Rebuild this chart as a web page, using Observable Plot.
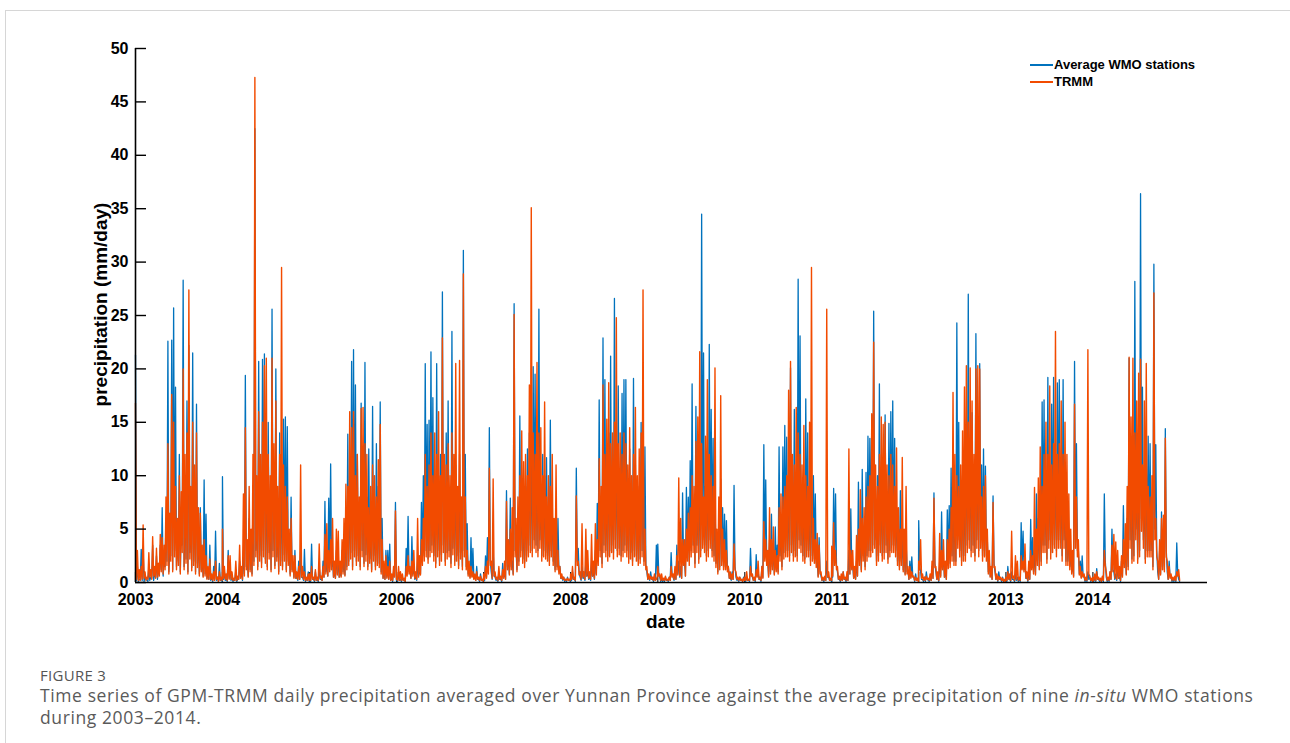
<!DOCTYPE html>
<html>
<head>
<meta charset="utf-8">
<script src="https://cdn.jsdelivr.net/npm/d3@7"></script>
<script src="https://cdn.jsdelivr.net/npm/@observablehq/plot@0.6"></script>
<style>
  html, body { margin: 0; padding: 0; background: #fff; }
  body { width: 1290px; height: 743px; position: relative; overflow: hidden; font-family: "Liberation Sans", Arial, sans-serif; }
  #frame { position: absolute; left: 5px; top: 10px; right: -2px; bottom: -2px; border-left: 1px solid #d6d6d6; border-top: 1px solid #d6d6d6; }
  #chart { position: absolute; left: 0; top: 0; }
  #legend { position: absolute; left: 1030px; top: 56px; font-weight: bold; font-size: 13px; color: #000; }
  #legend .row { height: 17px; line-height: 17px; white-space: nowrap; display: flex; align-items: center; }
  #legend .sw { display: inline-block; width: 23px; height: 2px; margin-right: 1px; }
  #fig { position: absolute; left: 40px; top: 666px; height: 18px; line-height: 18px; font-family: "Open Sans", "Noto Sans", sans-serif; font-size: 15px; color: #555; letter-spacing: 0.3px; }
  #cap { position: absolute; left: 40px; top: 685px; width: 1245px; font-family: "Open Sans", "Noto Sans", sans-serif; font-size: 17.5px; line-height: 21.5px; color: #5a5a5a; letter-spacing: 0.6px; white-space: nowrap; }
</style>
</head>
<body>
<div id="frame"></div>
<div id="chart"></div>
<div id="legend">
  <div class="row"><span class="sw" style="background:#0072BD"></span>Average WMO stations</div>
  <div class="row"><span class="sw" style="background:#F24B00"></span>TRMM</div>
</div>
<div id="fig">FIGURE 3</div>
<div id="cap">Time series of GPM-TRMM daily precipitation averaged over Yunnan Province against the average precipitation of nine <i>in-situ</i> WMO stations<br>during 2003–2014.</div>
<script>
// ---- data (mm/day) ----
// "peak" arrays: one value every 8 days from 1 January (day 0, 8, 16, ...)
// "low" arrays: the values in between (day 4, 12, 20, ...)
const years = [2003, 2004, 2005, 2006, 2007, 2008, 2009, 2010, 2011, 2012, 2013, 2014];
const yTicks = [0, 5, 10, 15, 20, 25, 30, 35, 40, 45, 50];

const wmo2003 = [21.3,1.5,0.3,3.1,3,0.5,0.2,1.5,0.5,3.5,0.8,2.5,1,3.5,7,2,6,22.6,3,22.7,25.7,18.3,4,12,5,28.3,8,17,22.2,6,21.5,9,16.7,4,7,2,9.6,6.4,1,3.5,0.5,1.5,4.8,0.5,1.8,0.3];
const trmm2003 = [16.8,3,1.2,1.5,5.4,1,0.5,2.8,1.2,4.3,1.5,3.2,1.8,4.5,4.2,3.5,8,13,6.5,17.6,15,9,6,10,8.5,20,12,14,27.4,9,15,11,14,7,6.5,3.5,4,2.5,1.5,2.2,0.8,1,2,0.5,1,0.5];
const wmo2004 = [9.9,1,0.3,3,1.5,0.5,0.2,1.2,0.3,2,0.8,3,19.4,2,6,3,8,42.5,6,20.7,8,20.9,21.4,10,15,7,25.6,9,20,6,14,10,15.3,15.5,14.6,3,8,1.5,3,0.5,2,3,0.5,3.1,0.3,1];
const trmm2004 = [5,1.5,0.8,2.5,2.5,1,0.4,2,0.6,3.5,1.5,8.3,14.5,4,9,5,12,47.3,10,16,12,15,20.3,21,12,10,21,13,17,9,12,29.5,11,9,8,5,6,2.5,2.5,1,1.5,11,1.5,1,0.5,0.8];
const wmo2005 = [0.5,3.6,0.3,1,0.2,1.5,0.3,2,7.6,2,7.9,11.1,2,1,3,2,1,3,2,5,13.9,8,20.7,21.8,18.5,12,6,16.8,9,20.6,8,12.5,5,16.5,6,13,9,16.9,6,1,3,3,3.6,0.5,1,7.5];
const trmm2005 = [0.8,1.5,0.5,1.2,0.5,3.6,0.6,1.5,4.5,5.5,3,4,6,2,5,4.8,2,4,6,9.2,9,16,14.5,16,10,12,8,16.3,16.4,13,12,7,9,11,10,8,11.5,14.8,4,2,2.5,1.5,2,0.8,1.5,6.7];
const wmo2006 = [0.3,1,0.3,0.5,0.2,3.2,6.2,1,4.3,1.5,0.5,2,1,7.5,10,20.5,14.8,15.2,21.6,17.3,8,20.5,9,12,27.2,8,14,17,6,23.5,9,11,7,12,5,31.1,12,5.5,1.5,4.2,3.2,0.5,1.5,0.3,0.8,0.2];
const trmm2006 = [0.5,1.5,1,0.8,0.4,1.5,2.5,1.5,2,3,1,6,2.5,4,6,12,9,11,14,10,14,12,16,10,22.9,12,11,13,10,14,12,20.5,9,20.8,8,28.9,8,3,2,1.5,1,0.8,1,0.5,0.6,0.3];
const wmo2007 = [0.5,2.5,4.2,14.5,1,3,0.5,0.3,1,0.3,1.8,0.8,8.6,2,7.9,2,26.1,3,6,15.6,9,6,9,12.5,14,13,20.2,19.5,12,25.6,9,12,10,11.7,6,15.2,7,4,6,6,1.5,0.5,0.5,0.2,0.5,0.2];
const trmm2007 = [0.8,1.5,2,10.7,2,9.7,1,0.5,1.5,0.6,1.2,2,7.6,4,5,7,25.1,6,8,10,14.2,11.3,12,10,18.5,35.1,14,12,20.6,14,14.5,10,16.9,8,10,9,12,6,11,3,1.5,0.8,0.5,0.3,0.4,0.3];
const wmo2008 = [0.5,1,0.3,10.7,3.2,0.5,1.5,0.5,2,1,0.5,2,1,3,7.4,17.1,6,22.9,19,9,14,21.2,10,26.6,12,18.4,9,17.7,19,19,8,12.5,7,19.1,11,8,9,15,9,12.7,1,0.5,1,0.3,0.6,3.5];
const trmm2008 = [0.8,1.5,0.5,8.1,2,1,5.5,1,5,3,1,4.5,2,5.5,4,11.6,9,18.5,12,15.3,18.7,13,14,15,24.8,13,14,12,14,13,11,14.5,10,12,16.4,10,12.5,14,27.4,5,1.5,0.8,0.6,0.5,0.8,0.3];
const wmo2009 = [3.6,0.5,0.3,0.2,0.5,0.2,0.5,2.8,0.5,1,3.5,2,1.5,8.4,2,8.9,8,11.4,18.6,6,16.5,8,10,34.5,21.5,9,12,22.3,16.2,13.5,8,4,6,9.7,7,6.4,5.8,1.5,0.5,1,9.1,0.5,0.3,0.5,0.2,0.5];
const trmm2009 = [1.5,0.8,0.8,0.4,0.6,0.3,0.5,1.5,0.8,1.5,2.5,9.8,6,4,4,5,6.5,7,10,9,13.2,15.5,21.6,13,8,13.7,19,12,10,9,20.1,5,8,17.5,5,4,3,1.5,1,0.8,3.6,1,0.5,0.5,0.3,0.4];
const wmo2010 = [0.3,0.5,0.2,3.2,0.5,0.3,2.6,1,0.3,1.5,12.9,9.6,2,4,6.4,3,5.2,3.5,12.7,5,12.7,14.7,13.6,9,20.1,8,16.2,9,28.4,23.1,9,8,17.2,14,7,10,10,8.3,2,4.2,0.6,0.3,0.5,2,0.5,0.3];
const trmm2010 = [0.5,1,0.3,1.5,0.8,0.5,1.2,2,0.5,1.5,5.7,4,3,7,4,5.2,3,2.5,7,8.3,8,9,10,18,20.7,12,11,16.4,14,12,11,14.7,10,9,15,29.5,6,4,4.6,3.5,1,0.5,0.6,25.6,1,0.4];
const wmo2011 = [2,8.8,8.3,1,0.3,0.5,1,0.3,0.5,3,6.9,1.5,0.8,2,9.4,4,10.6,5,10.3,13.7,13.5,15.7,25.4,7,10,18.6,9,10,15.7,8,14.9,16,17,13.5,7,5,8.6,4,3,4,1,2,2.4,0.5,0.8,0.3];
const trmm2011 = [3.4,5.6,3,1.5,0.6,0.8,1,0.5,1,12.5,3,3,1.5,4.4,5,8.7,6,7,8,9,10,15.8,22.5,11,9,12,15.5,14.8,15,11,10,12,11,9,12.6,7,5,11.7,5,9,1.5,1.5,1,0.6,0.5,0.4];
const wmo2012 = [5.8,1,0.3,0.5,1,0.2,0.5,1.5,8.4,1,0.5,2,6.6,2,1,6.8,7.2,10.7,9,8,24.3,15,7,10,9,14.4,27,12,15.9,9,23.3,12,20.5,11,12.5,10.9,4,2,1,8.1,1,0.5,1,0.3,0.5,0.2];
const trmm2012 = [2,4,0.8,0.5,0.6,0.4,0.8,2,7.9,1.5,1,4.6,3,4,2,4,5,7,17.8,12,10,9,11,14.2,18.3,20.3,15,20.1,17,12,20,20.3,20,8,9,10,5,3,1.5,7.5,1.5,0.8,0.6,0.5,0.4,0.3];
const wmo2013 = [0.3,1.5,0.3,1,0.3,0.8,0.5,0.3,5.6,4.8,1.5,0.5,1,5.9,4.2,3,8.3,6,8,16.9,17.1,9,19.2,11,16.7,19.2,12,18.7,19,9,19,8,7,5,3,2,20.7,13,3,2,2.5,0.5,0.3,1,0.5,0.3];
const trmm2013 = [0.5,1,0.8,4.8,0.6,2.5,2,0.5,2.5,2,3.6,1,2,3,2.5,8.9,5,9.8,12.7,9,12,15,12,18.4,11,13,23.5,12,13,17,12,15,12,8.3,5,3,16.7,8,4,1.5,1,0.8,0.5,21.8,0.6,0.4];
const wmo2014 = [0.3,0.5,1.3,0.3,0.2,0.5,8.3,0.5,0.3,1,5,1,0.8,1.5,0.5,2,7.2,3,6,21,9,10,28.2,9,12,36.4,18.3,9,12,13.7,13,6,29.8,12.9,1,3,6.6,5,14.4,1,2,0.5,0.3,0.5,3.7,0.3];
const trmm2014 = [0.5,0.8,1,0.5,0.4,0.6,3,1,0.5,1,3.5,4.5,3.8,3,1.5,2.5,4,5.5,9,21.1,15.5,21,14,17,19.6,20.9,11,17,20.5,9,8,10,27.1,6,2,4,6,6.3,13.5,2,1.5,0.8,0.5,0.6,1,1.2];

const wmoLow2003 = [0.2,0.1,0.3,0.2,0.1,0.3,0.1,0.2,0.4,0.2,0.5,0.3,0.8,1.2,0.6,1.5,2,1,2.5,1.2,3,1.5,2,1,3.5,1.5,2.2,1,2.8,1.4,2,1,1.8,0.8,1.2,0.6,0.8,0.4,0.3,0.2,0.1,0.3,0.2,0.1,0.2,0.1];
const trmmLow2003 = [0.3,0.2,0.2,0.3,0.4,0.2,0.3,0.5,0.3,0.6,0.4,0.5,0.6,1,0.8,1.2,1.6,0.8,2,1,2.4,1.2,1.6,0.8,2.8,1.2,1.8,0.8,2.2,1.1,1.6,0.8,1.4,0.6,1,0.5,0.6,0.3,0.3,0.3,0.2,0.2,0.3,0.1,0.2,0.2];
const wmoLow2004 = [0.3,0.2,0.1,0.4,0.2,0.1,0.2,0.1,0.3,0.5,0.2,0.8,1.5,0.6,1.2,0.8,2,3,1.5,2.5,1.8,3,2.2,1.5,2.8,1.2,3,1.6,2.4,1,2,1.5,2.6,1.2,2,0.8,1.2,0.5,0.4,0.2,0.3,0.5,0.2,0.1,0.2,0.1];
const trmmLow2004 = [0.4,0.3,0.2,0.3,0.3,0.2,0.2,0.2,0.3,0.4,0.3,0.6,1.2,0.5,1,0.6,1.6,2.4,1.2,2,1.4,2.4,1.8,1.2,2.2,1,2.4,1.3,2,0.8,1.6,1.2,2,1,1.6,0.6,1,0.4,0.4,0.3,0.3,0.5,0.3,0.2,0.2,0.2];
const wmoLow2005 = [0.1,0.3,0.1,0.2,0.1,0.3,0.2,0.5,1,0.6,1.2,1.5,0.5,0.4,0.8,0.5,0.6,1,0.7,1.5,2,2.8,1.5,3,2,2.5,1.5,3,1.8,2.6,1.5,2.2,1.2,2.5,1.5,2,1.8,1,0.4,0.3,0.5,0.3,0.2,0.1,0.6,0.2];
const trmmLow2005 = [0.2,0.3,0.2,0.2,0.2,0.4,0.2,0.5,0.8,0.6,1,1.2,0.5,0.4,0.7,0.5,0.5,0.8,0.6,1.2,1.6,2.2,1.2,2.4,1.6,2,1.2,2.4,1.5,2,1.2,1.8,1,2,1.2,1.6,1.4,0.8,0.4,0.3,0.4,0.3,0.2,0.2,0.5,0.3];
const wmoLow2006 = [0.1,0.2,0.1,0.2,0.1,0.8,1,0.4,0.8,0.3,0.2,0.6,0.8,2,2.5,3,2.2,3,3.5,2.5,1.8,3,2,2.6,3.5,2,2.8,3,1.8,3.2,2,2.5,1.6,2.8,1.5,3,1.5,0.8,0.5,0.6,0.4,0.2,0.3,0.1,0.2,0.1];
const trmmLow2006 = [0.2,0.2,0.2,0.2,0.1,0.6,0.8,0.4,0.6,0.4,0.3,0.5,0.7,1.6,2,2.4,1.8,2.4,2.8,2,1.4,2.4,1.6,2,2.8,1.6,2.2,2.4,1.4,2.6,1.6,2,1.3,2.2,1.2,2.4,1.2,0.6,0.4,0.5,0.3,0.2,0.3,0.2,0.2,0.1];
const wmoLow2007 = [0.2,0.5,1,2,0.3,0.6,0.2,0.1,0.3,0.1,0.5,0.3,1.5,0.8,1.5,0.8,3,1.2,2,3,2.2,1.8,2.5,3,3.5,3,4,3.5,3,4,2.5,3,2.8,2.5,2,3,2,1.2,1.5,1,0.4,0.2,0.1,0.1,0.2,0.1];
const trmmLow2007 = [0.3,0.4,0.8,1.6,0.4,0.6,0.3,0.2,0.3,0.2,0.4,0.3,1.2,0.7,1.2,0.7,2.4,1,1.6,2.4,1.8,1.4,2,2.4,2.8,2.4,3.2,2.8,2.4,3.2,2,2.4,2.2,2,1.6,2.4,1.6,1,1.2,0.8,0.4,0.3,0.2,0.2,0.2,0.2];
const wmoLow2008 = [0.2,0.3,0.1,2,0.8,0.2,0.4,0.2,0.6,0.3,0.2,0.6,0.3,0.8,2,3,1.8,3.5,3,2.5,3,3.5,2.8,4,3,3.2,2.5,3,3.5,3,2.2,2.8,2,3,2.5,2,2.2,3,2,1.5,0.3,0.2,0.3,0.1,0.2,0.8];
const trmmLow2008 = [0.3,0.3,0.2,1.6,0.7,0.3,0.5,0.3,0.6,0.4,0.3,0.6,0.4,0.7,1.6,2.4,1.4,2.8,2.4,2,2.4,2.8,2.2,3.2,2.4,2.6,2,2.4,2.8,2.4,1.8,2.2,1.6,2.4,2,1.6,1.8,2.4,1.6,1.2,0.3,0.3,0.3,0.2,0.2,0.6];
const wmoLow2009 = [0.8,0.1,0.1,0.1,0.2,0.1,0.2,0.6,0.2,0.3,0.8,0.5,0.4,2,0.6,2.5,2,3,3.5,1.8,3.5,2.2,3,4,3.5,2.5,3,4,3,2.5,1.8,1,1.5,2,1.5,1.5,1.2,0.4,0.2,0.3,1.5,0.2,0.1,0.2,0.1,0.2];
const trmmLow2009 = [0.6,0.2,0.2,0.2,0.2,0.2,0.2,0.5,0.3,0.3,0.7,0.6,0.4,1.6,0.6,2,1.6,2.4,2.8,1.4,2.8,1.8,2.4,3.2,2.8,2,2.4,3.2,2.4,2,1.4,0.8,1.2,1.6,1.2,1.2,1,0.4,0.3,0.3,1.2,0.3,0.2,0.2,0.1,0.2];
const wmoLow2010 = [0.1,0.2,0.1,0.8,0.2,0.1,0.6,0.3,0.1,0.5,2.5,2,0.6,1,1.5,0.8,1.2,1,2.5,1.5,2.8,3,3,2.5,3.5,2.5,3,2.5,4,3.5,2.5,2.2,3,3,2,2.5,2.2,1.8,0.6,1,0.2,0.1,0.2,0.5,0.2,0.1];
const trmmLow2010 = [0.2,0.2,0.2,0.6,0.2,0.2,0.5,0.3,0.2,0.4,2,1.6,0.5,0.8,1.2,0.7,1,0.8,2,1.2,2.2,2.4,2.4,2,2.8,2,2.4,2,3.2,2.8,2,1.8,2.4,2.4,1.6,2,1.8,1.4,0.5,0.8,0.2,0.2,0.2,0.5,0.2,0.2];
const wmoLow2011 = [0.5,2,1.5,0.3,0.1,0.2,0.3,0.1,0.2,0.8,1.5,0.4,0.3,0.6,2,1.2,2.5,1.5,2.5,3,3,3.5,4,2,2.5,3.5,2.5,2.8,3.5,2.2,3,3.5,3.5,3,2,1.5,2,1.2,0.8,1,0.3,0.5,0.6,0.1,0.2,0.1];
const trmmLow2011 = [0.6,1.6,1.2,0.3,0.2,0.2,0.3,0.2,0.2,0.8,1.2,0.4,0.3,0.6,1.6,1,2,1.2,2,2.4,2.4,2.8,3.2,1.6,2,2.8,2,2.2,2.8,1.8,2.4,2.8,2.8,2.4,1.6,1.2,1.6,1,0.7,0.8,0.3,0.4,0.5,0.2,0.2,0.1];
const wmoLow2012 = [1.5,0.3,0.1,0.1,0.3,0.1,0.2,0.4,1.8,0.3,0.1,0.6,1.5,0.5,0.3,1.6,1.8,2.5,2,2,4,3,2,2.5,2.5,3.5,4,3,3.5,2.5,4,3,4,2.5,3,2.5,1,0.6,0.3,1.8,0.3,0.1,0.3,0.1,0.1,0.1];
const trmmLow2012 = [1.2,0.4,0.2,0.2,0.3,0.2,0.2,0.4,1.4,0.3,0.2,0.5,1.2,0.5,0.3,1.3,1.4,2,1.6,1.6,3.2,2.4,1.6,2,2,2.8,3.2,2.4,2.8,2,3.2,2.4,3.2,2,2.4,2,0.8,0.5,0.3,1.4,0.3,0.2,0.3,0.2,0.1,0.1];
const wmoLow2013 = [0.1,0.4,0.1,0.3,0.1,0.2,0.1,0.1,1.5,1.2,0.4,0.1,0.3,1.5,1,0.8,2,1.5,2,3.5,3.5,2.2,4,2.8,3.5,4,3,4,4,2.5,4,2,2,1.5,1,0.6,4,3,0.8,0.5,0.6,0.1,0.1,0.3,0.1,0.1];
const trmmLow2013 = [0.2,0.3,0.2,0.4,0.2,0.3,0.2,0.2,1.2,1,0.4,0.2,0.3,1.2,0.8,0.7,1.6,1.2,1.6,2.8,2.8,1.8,3.2,2.2,2.8,3.2,2.4,3.2,3.2,2,3.2,1.6,1.6,1.2,0.8,0.5,3.2,2.4,0.7,0.4,0.5,0.2,0.2,0.8,0.2,0.1];
const wmoLow2014 = [0.1,0.1,0.3,0.1,0.1,0.1,2,0.1,0.1,0.3,1.2,0.3,0.2,0.4,0.1,0.6,1.8,0.8,1.5,4,2.2,2.5,5,2.2,3,6,4,2.2,3,3,3,1.5,5,3,0.3,0.8,1.5,1.2,3,0.3,0.5,0.1,0.1,0.1,0.8,0.1];
const trmmLow2014 = [0.2,0.2,0.3,0.2,0.1,0.2,1.6,0.2,0.2,0.3,1,0.4,0.3,0.4,0.2,0.5,1.4,0.7,1.2,3.2,1.8,2,4,1.8,2.4,4.8,3.2,1.8,2.4,2.4,2.4,1.2,4,2.4,0.3,0.7,1.2,1,2.4,0.3,0.4,0.2,0.2,0.2,0.6,0.2];

const wmoPeaks  = [wmo2003, wmo2004, wmo2005, wmo2006, wmo2007, wmo2008, wmo2009, wmo2010, wmo2011, wmo2012, wmo2013, wmo2014];
const trmmPeaks = [trmm2003, trmm2004, trmm2005, trmm2006, trmm2007, trmm2008, trmm2009, trmm2010, trmm2011, trmm2012, trmm2013, trmm2014];
const wmoLows   = [wmoLow2003, wmoLow2004, wmoLow2005, wmoLow2006, wmoLow2007, wmoLow2008, wmoLow2009, wmoLow2010, wmoLow2011, wmoLow2012, wmoLow2013, wmoLow2014];
const trmmLows  = [trmmLow2003, trmmLow2004, trmmLow2005, trmmLow2006, trmmLow2007, trmmLow2008, trmmLow2009, trmmLow2010, trmmLow2011, trmmLow2012, trmmLow2013, trmmLow2014];
const STEP_DAYS = 8;

function toRows(peaks, lows) {
  return years.flatMap((y, k) => peaks[k].flatMap((v, i) => [
    {date: new Date(Date.UTC(y, 0, 1 + STEP_DAYS * i)), value: v},
    {date: new Date(Date.UTC(y, 0, 1 + STEP_DAYS * i + STEP_DAYS / 2)), value: lows[k][i]}
  ]));
}
const wmoRows = toRows(wmoPeaks, wmoLows);
const trmmRows = toRows(trmmPeaks, trmmLows);
const yearDates = years.map(y => new Date(Date.UTC(y, 0, 1)));

const W = 1290, H = 640, ML = 135, MR = 83, MT = 48, MB = 58;
const innerW = W - ML - MR, innerH = H - MT - MB;
const xStart = new Date(Date.UTC(2003, 0, 1)), xEnd = new Date(Date.UTC(2015, 3, 27));
const FONT = '"Liberation Sans", Arial, Helvetica, sans-serif';

const chart = Plot.plot({
  width: W, height: H,
  marginLeft: ML, marginRight: MR, marginTop: MT, marginBottom: MB,
  style: {fontFamily: FONT, fontSize: "16px", fontWeight: "bold", color: "#000", background: "transparent", overflow: "visible"},
  x: {type: "utc", domain: [xStart, xEnd]},
  y: {domain: [0, 50]},
  marks: [
    Plot.tickX(yearDates, {x: d => d, stroke: "#222", strokeWidth: 1.2, insetTop: innerH - 10}),
    Plot.line(wmoRows, {x: "date", y: "value", stroke: "#0072BD", strokeWidth: 1.3}),
    Plot.line(trmmRows, {x: "date", y: "value", stroke: "#F24B00", strokeWidth: 1.4}),
    Plot.ruleY([0], {stroke: "#000", strokeWidth: 1.6}),
    Plot.ruleX([xStart], {stroke: "#000", strokeWidth: 1.6}),
    Plot.tickY(yTicks, {y: d => d, stroke: "#000", strokeWidth: 1.4, insetRight: innerW - 11}),
    Plot.axisX(yearDates, {tickSize: 0, tickPadding: 11, tickFormat: d => String(d.getUTCFullYear()), label: null, fontSize: 16, fontWeight: "bold"}),
    Plot.axisY(yTicks, {tickSize: 0, tickPadding: 7, label: null, fontSize: 16, fontWeight: "bold"}),
    Plot.text(["date"], {frameAnchor: "bottom", dx: -6, dy: 39, lineAnchor: "middle", text: d => d, fontSize: 19, fontWeight: "bold"}),
    Plot.text(["precipitation (mm/day)"], {frameAnchor: "left", dx: -35, dy: -11, rotate: -90, textAnchor: "middle", text: d => d, fontSize: 19, fontWeight: "bold"})
  ]
});
document.getElementById("chart").appendChild(chart);
</script>
</body>
</html>
